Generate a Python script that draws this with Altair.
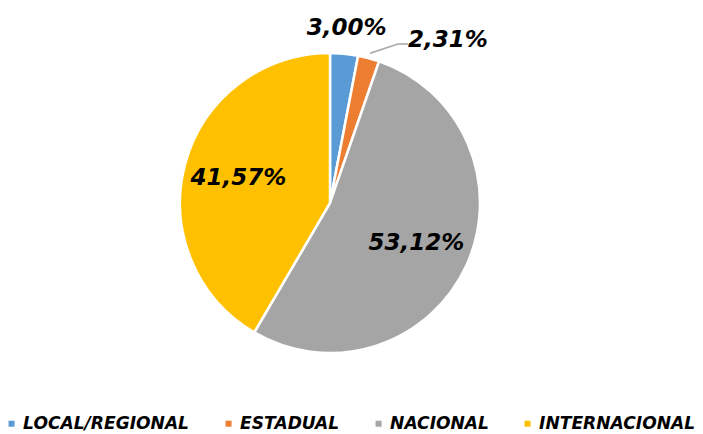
import math
import altair as alt
import pandas as pd

categories = ["LOCAL/REGIONAL", "ESTADUAL", "NACIONAL", "INTERNACIONAL"]
values = [3.00, 2.31, 53.12, 41.57]
labels = ["3,00%", "2,31%", "53,12%", "41,57%"]
colors = ["#5B9BD5", "#ED7D31", "#A5A5A5", "#FFC000"]

CX, CY, R = 322, 195, 150

df = pd.DataFrame({"cat": categories, "val": values, "lab": labels, "ord": range(4)})

total = sum(values)
cum = 0
lx, ly, mids = [], [], []
label_r = [176, 178, 95, 95]
for v, r in zip(values, label_r):
    mid = (cum + v / 2) / total * 2 * math.pi
    mids.append(mid)
    lx.append(CX + r * math.sin(mid))
    ly.append(CY - r * math.cos(mid))
    cum += v
lab_df = pd.DataFrame({"lab": labels, "x": lx, "y": ly})
lab_df.loc[1, "x"] = CX + 118
lab_df.loc[1, "y"] = CY - 163
lab_df.loc[0, "y"] = CY - 175

m = mids[1]
sx, sy = CX + 155 * math.sin(m), CY - 155 * math.cos(m)
ex, ey = lab_df.loc[1, "x"] - 40, lab_df.loc[1, "y"] + 4
lead_df = pd.DataFrame({"x": [sx, ex - 10, ex], "y": [sy, ey, ey], "o": [0, 1, 2]})

color_scale = alt.Scale(domain=categories, range=colors)

pie = alt.Chart(df).mark_arc(outerRadius=R, stroke="white", strokeWidth=2.5).encode(
    theta=alt.Theta("val:Q", stack=True),
    order=alt.Order("ord:Q"),
    color=alt.Color(
        "cat:N",
        scale=color_scale,
        sort=categories,
        legend=alt.Legend(
            title=None,
            orient="none",
            direction="horizontal",
            legendX=-5,
            legendY=407,
            symbolType="square",
            symbolSize=36,
            symbolStrokeWidth=0,
            labelFont="DejaVu Sans",
            labelFontSize=17.1,
            labelFontWeight="bold",
            labelFontStyle="italic",
            labelColor="#000000",
            columnPadding=30,
            labelOffset=3,
            labelLimit=300,
        ),
    ),
    x=alt.value(CX),
    y=alt.value(CY),
)

lead = alt.Chart(lead_df).mark_line(color="#A5A5A5", strokeWidth=1.5).encode(
    x=alt.X("x:Q", scale=None),
    y=alt.Y("y:Q", scale=None),
    order="o:Q",
)

text = alt.Chart(lab_df).mark_text(
    font="DejaVu Sans", fontSize=23, fontWeight="bold", fontStyle="italic", color="#000000"
).encode(
    x=alt.X("x:Q", scale=None),
    y=alt.Y("y:Q", scale=None),
    text="lab:N",
)

chart = (
    alt.layer(pie, lead, text)
    .properties(width=687, height=426, autosize=alt.AutoSizeParams(type="none"), padding=0, background="white")
    .configure_view(stroke=None)
)

chart.save("out.html", embed_options={"renderer": "svg", "actions": False})
